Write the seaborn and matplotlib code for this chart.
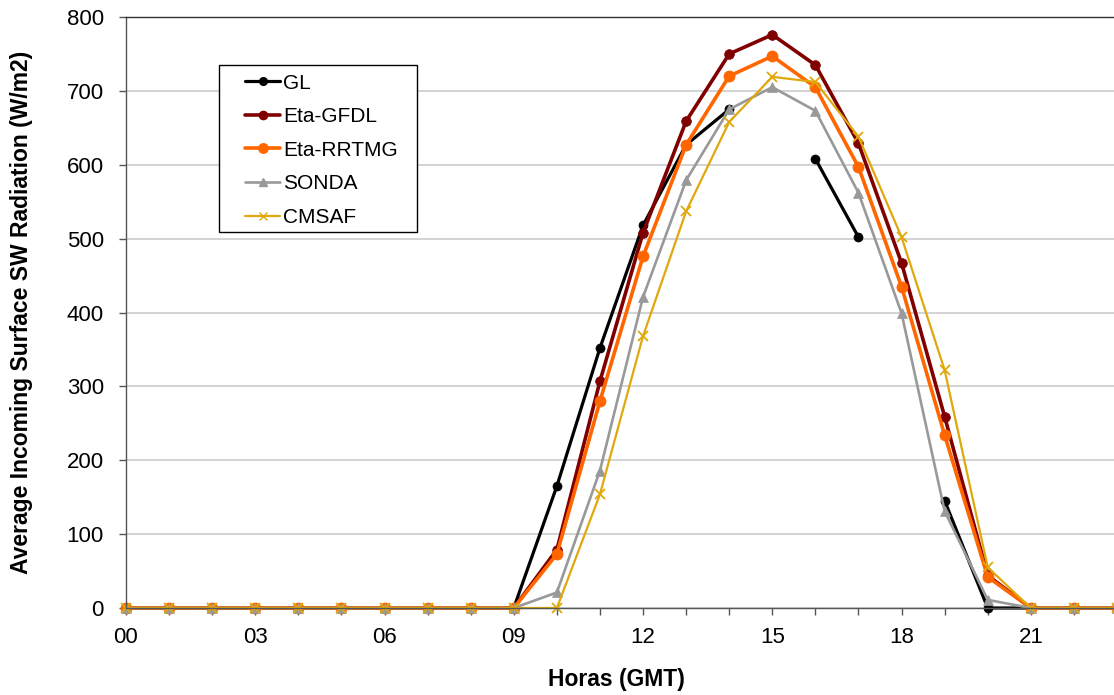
import numpy as np
import pandas as pd
import matplotlib
matplotlib.use("Agg")
import matplotlib.pyplot as plt
from matplotlib.lines import Line2D
from matplotlib.patches import Rectangle
import seaborn as sns

# Hourly mean incoming shortwave radiation (W/m2), hours 00..23 GMT
hours = list(range(24))
tick_labels = ["00", "03", "06", "09", "12", "15", "18", "21"]

gl = [0, 0, 0, 0, 0, 0, 0, 0, 0, 0, 165, 352, 518, 627, 675, np.nan,
      608, 502, np.nan, 145, 0, 0, 0, 0]
eta_gfdl = [0, 0, 0, 0, 0, 0, 0, 0, 0, 0, 79, 307, 508, 659, 750, 776,
            735, 629, 467, 259, 44, 0, 0, 0]
eta_rrtmg = [0, 0, 0, 0, 0, 0, 0, 0, 0, 0, 73, 280, 476, 627, 720, 747,
             705, 597, 435, 234, 42, 0, 0, 0]
sonda = [0, 0, 0, 0, 0, 0, 0, 0, 0, 0, 21, 186, 421, 579, 675, 705,
         673, 562, 399, 131, 11, 0, 0, 0]
cmsaf = [0, 0, 0, 0, 0, 0, 0, 0, 0, 0, 0, 154, 368, 537, 658, 719,
         712, 638, 502, 322, 55, 0, 0, 0]

series = [
    ("GL", gl, dict(color="#000000", lw=2.3, marker="o", ms=6.5)),
    ("Eta-GFDL", eta_gfdl, dict(color="#800000", lw=2.6, marker="o", ms=7)),
    ("Eta-RRTMG", eta_rrtmg, dict(color="#FF6600", lw=2.6, marker="o", ms=8)),
    ("SONDA", sonda, dict(color="#999999", lw=1.9, marker="^", ms=7.5)),
    ("CMSAF", cmsaf, dict(color="#E0A80C", lw=1.6, marker="x", ms=7)),
]

sns.set_theme(style="white")
plt.rcParams["font.family"] = ["Liberation Sans", "DejaVu Sans"]
plt.rcParams["text.color"] = "#000000"
plt.rcParams["axes.labelcolor"] = "#000000"

fig = plt.figure(figsize=(11.14, 6.95), dpi=100)
ax = fig.add_axes([126 / 1114, 87 / 695, 991 / 1114, 591 / 695])

handles = []
for name, vals, st in series:
    df = pd.DataFrame({"hour": hours, "value": vals})
    # consecutive valid hours form one segment; missing hours break the line
    df["segment"] = df["value"].isna().cumsum()
    df = df.dropna()
    sns.lineplot(data=df, x="hour", y="value", units="segment",
                 estimator=None, ax=ax, color=st["color"], linewidth=st["lw"],
                 marker=st["marker"], markersize=st["ms"],
                 markeredgecolor=st["color"], markerfacecolor=st["color"],
                 markeredgewidth=1.3 if st["marker"] == "x" else 0.5,
                 clip_on=False, legend=False)
    handles.append(Line2D([], [], color=st["color"], lw=st["lw"],
                          marker=st["marker"], markersize=st["ms"] * 0.85,
                          markeredgecolor=st["color"],
                          markerfacecolor=st["color"], label=name))

ax.set_xlim(0, 23)
ax.set_ylim(0, 800)
ax.set_yticks(range(0, 801, 100))
ax.set_xticks(range(0, 24, 3))
ax.set_xticklabels(tick_labels)
ax.set_xticks(range(0, 24), minor=True)

ax.grid(axis="y", color="#c8c8c8", linewidth=1.1)
ax.set_axisbelow(True)

ax.spines["right"].set_visible(False)
ax.spines["top"].set_color("#333333")
ax.spines["top"].set_linewidth(1.0)
for side in ("left", "bottom"):
    ax.spines[side].set_color("#555555")
    ax.spines[side].set_linewidth(1.0)

ax.tick_params(axis="both", which="both", direction="out", length=5,
               width=1, color="#555555", labelsize=16, labelcolor="#000000")
ax.tick_params(axis="x", which="both", bottom=True, pad=9)
ax.tick_params(axis="y", left=True, pad=11)

ax.set_xlabel("Horas (GMT)", fontsize=16.5, fontweight="bold")
ax.xaxis.set_label_coords((616 - 126) / 991, -(668 - 608) / 591)
ax.set_ylabel("Average Incoming Surface SW Radiation (W/m2)", fontsize=16.5,
              fontweight="bold")
ax.yaxis.set_label_coords(-(126 - 33) / 991, 0.5)

# legend box
ax.add_patch(Rectangle(((219 - 126) / 991, 1 - (232 - 17) / 591),
                       (417 - 219) / 991, (232 - 65) / 591,
                       transform=ax.transAxes, facecolor="white",
                       edgecolor="#000000", linewidth=1.0, zorder=5,
                       clip_on=False))
leg = ax.legend(handles=handles, loc="upper left",
                bbox_to_anchor=((245 - 126) / 991, 1 - (73.5 - 17) / 591),
                frameon=False, fontsize=15, handlelength=1.68,
                handletextpad=0.15, labelspacing=0.70, borderpad=0,
                borderaxespad=0)
leg.set_zorder(6)

fig.savefig("out.png", dpi=100)
